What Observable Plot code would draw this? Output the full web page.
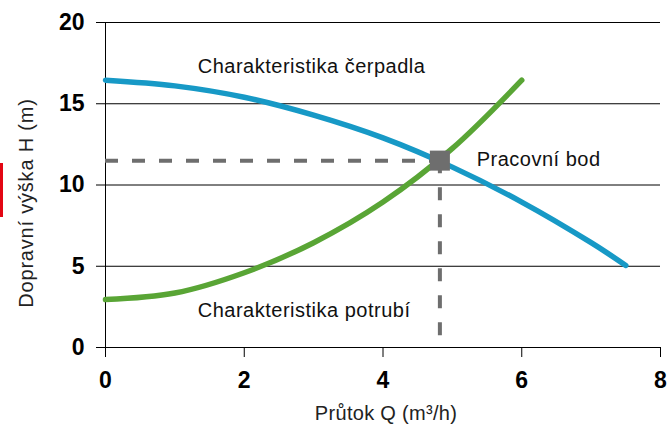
<!DOCTYPE html>
<html>
<head>
<meta charset="utf-8">
<script src="https://cdn.jsdelivr.net/npm/d3@7"></script>
<script src="https://cdn.jsdelivr.net/npm/@observablehq/plot@0.6"></script>
<style>
  html, body { margin: 0; padding: 0; background: #fff; }
  #wrap { position: relative; width: 671px; height: 434px; }
  #redbar { position: absolute; left: 0; top: 163px; width: 3px; height: 54px; background: #e30613; }
</style>
</head>
<body>
<div id="wrap"><div id="redbar"></div></div>
<script>
// Pump characteristic (Q in m3/h, H in m)
const pumpQ = [0, 1, 2, 3, 4, 5, 6, 7, 7.5];
const pumpH = [16.45, 16.1, 15.4, 14.3, 12.9, 11.1, 8.95, 6.45, 5.05];
// System (pipe) characteristic
const pipeQ = [0, 1, 2, 3, 4, 5, 6];
const pipeH = [2.95, 3.35, 4.6, 6.45, 8.95, 12.25, 16.45];
// Operating point
const opQ = 4.82;
const opH = 11.5;
// Ticks
const xTicks = [0, 2, 4, 6, 8];
const yTicks = [0, 5, 10, 15, 20];
// Annotations
const labelText = ["Charakteristika čerpadla", "Pracovní bod", "Charakteristika potrubí"];
const labelQ = [1.33, 5.35, 1.33];
const labelH = [17.3, 11.55, 2.3];
const xTitle = "Průtok Q (m³/h)";
const yTitle = "Dopravní výška H (m)";

const pump = pumpQ.map((q, i) => ({q, h: pumpH[i]}));
const pipe = pipeQ.map((q, i) => ({q, h: pipeH[i]}));
const labels = labelText.map((t, i) => ({t, q: labelQ[i], h: labelH[i]}));

const font = "'Liberation Sans', Arial, Helvetica, sans-serif";

const chart = Plot.plot({
  width: 671,
  height: 434,
  marginLeft: 105,
  marginRight: 11,
  marginTop: 22,
  marginBottom: 87,
  style: {fontFamily: font, background: "#fff", color: "#000"},
  x: {domain: [0, 8]},
  y: {domain: [0, 20]},
  marks: [
    Plot.gridY(yTicks, {stroke: "#000", strokeOpacity: 1, strokeWidth: 1}),
    Plot.axisY(yTicks, {tickSize: 9, tickPadding: 12, fontSize: 23, fontWeight: "bold", label: null, stroke: "#000"}),
    Plot.axisX(xTicks, {tickSize: 10, tickPadding: 14, fontSize: 23, fontWeight: "bold", label: null, stroke: "#000"}),
    Plot.ruleX([0], {y1: 0, y2: 20, stroke: "#000"}),
    Plot.ruleY([opH], {x1: 0, x2: opQ, stroke: "#6e6e6e", strokeWidth: 4, strokeDasharray: "13,14"}),
    Plot.ruleX([opQ], {y1: opH, y2: 0, stroke: "#6e6e6e", strokeWidth: 4, strokeDasharray: "13,14"}),
    Plot.line(pump, {x: "q", y: "h", stroke: "#1799c6", strokeWidth: 5.5, curve: "catmull-rom"}),
    Plot.line(pipe, {x: "q", y: "h", stroke: "#59a535", strokeWidth: 5.5, curve: "catmull-rom"}),
    Plot.dot([{q: opQ, h: opH}], {x: "q", y: "h", symbol: "square", r: 11.3, fill: "#6e6e6e", stroke: null}),
    Plot.text(labels, {x: "q", y: "h", text: "t", textAnchor: "start", fontSize: 20, fill: "#111", ariaDescription: "labels"}),
    Plot.text([xTitle], {frameAnchor: "bottom", dx: 3, dy: 72, fontSize: 20, fill: "#222", ariaDescription: "xtitle"}),
    Plot.text([yTitle], {frameAnchor: "left", textAnchor: "middle", rotate: -90, dx: -79, dy: 18, fontSize: 20, fill: "#222", ariaDescription: "ytitle"})
  ]
});
d3.select(chart).selectAll("g[aria-description=labels] text").style("letter-spacing", "0.5px");
d3.select(chart).selectAll("g[aria-description=xtitle] text").style("letter-spacing", "0.3px");
d3.select(chart).selectAll("g[aria-description=ytitle] text").style("letter-spacing", "0.8px");
document.getElementById("wrap").appendChild(chart);
</script>
</body>
</html>
